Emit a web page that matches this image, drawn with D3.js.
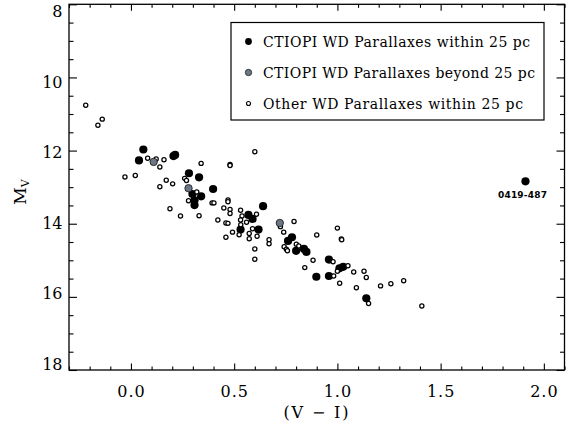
<!DOCTYPE html>
<html><head><meta charset="utf-8">
<script src="https://cdn.jsdelivr.net/npm/d3@7"></script>
<style>body{margin:0;background:#fff} svg{display:block}</style>
</head><body><svg id="c" width="566" height="423"></svg>
<script>
// CTIOPI WD parallaxes within 25 pc : [V-I, M_V]
const ctiopiNear = [
 [0.060,11.97],[0.039,12.27],[0.206,12.15],[0.214,12.12],[0.281,12.62],[0.330,12.73],
 [0.398,13.05],[0.298,13.19],[0.340,13.25],[0.308,13.36],[0.308,13.49],[0.640,13.52],
 [0.569,13.76],[0.589,13.87],[0.531,14.16],[0.618,14.16],[0.780,14.37],[0.761,14.47],
 [0.800,14.74],[0.838,14.69],[0.850,14.77],[0.959,14.98],[1.010,15.22],[1.028,15.18],
 [0.898,15.45],[0.959,15.43],[1.140,16.04],[1.911,12.84]
];
// CTIOPI WD parallaxes beyond 25 pc
const ctiopiFar = [[0.110,12.31],[0.279,13.03],[0.721,13.98]];
// Other WD parallaxes within 25 pc
const otherNear = [
 [-0.219,10.76],[-0.139,11.14],[-0.160,11.31],[-0.029,12.72],[0.021,12.68],
 [0.081,12.21],[0.122,12.23],[0.160,12.25],[0.140,12.45],[0.171,12.81],[0.140,12.99],[0.202,12.91],
 [0.340,12.35],[0.260,12.76],[0.269,12.82],[0.279,13.37],[0.319,13.13],
 [0.189,13.59],[0.240,13.79],[0.330,13.78],[0.393,13.43],[0.402,13.43],[0.421,13.90],
 [0.470,13.35],[0.470,13.40],[0.480,12.38],[0.480,12.41],[0.600,12.03],
 [0.450,13.57],[0.480,13.61],[0.480,13.72],[0.531,13.63],[0.460,13.98],[0.470,13.99],
 [0.460,14.37],[0.492,14.23],[0.538,13.79],[0.531,13.90],[0.560,13.96],[0.532,14.03],
 [0.589,14.14],[0.573,14.27],[0.573,14.41],[0.608,13.74],[0.611,14.34],[0.524,14.30],
 [0.600,14.69],[0.600,14.97],[0.669,14.44],[0.669,14.55],[0.724,14.08],[0.740,14.23],[0.790,13.94],
 [0.742,14.63],[0.753,14.70],[0.758,14.74],[0.801,14.56],[0.813,14.61],
 [0.900,14.31],[1.000,14.12],[1.019,14.42],[1.021,14.44],[0.882,15.00],[0.842,15.20],
 [0.979,15.04],[1.051,15.15],[1.079,15.32],[1.000,15.30],[0.982,15.43],
 [1.129,15.30],[1.140,15.47],[1.011,15.63],[1.092,15.75],
 [1.209,15.70],[1.259,15.64],[1.321,15.56],[1.151,16.18],[1.409,16.25]
];
const xMajorTicks = [0, 0.5, 1.0, 1.5, 2.0];
const yMajorTicks = [8, 10, 12, 14, 16, 18];
const legendLabels = ["CTIOPI WD Parallaxes within 25 pc","CTIOPI WD Parallaxes beyond 25 pc","Other WD Parallaxes within 25 pc"];
const outlierLabel = "0419-487";
const xTitle = "(V \u2212 I)";

const svg = d3.select("#c");
const FONT = "DejaVu Serif";
const x = d3.scaleLinear().domain([-0.3, 2.1]).range([69, 564.5]);
const y = d3.scaleLinear().domain([8, 18]).range([4.3, 370]);
const yLab = d3.scaleLinear().domain([8, 18]).range([11.7, 364]);
const xMinor = d3.range(-3, 22).map(d => +(d/10).toFixed(1)).filter(d => !xMajorTicks.includes(d));
const yMinor = d3.range(16, 37).map(d => d/2).filter(d => !yMajorTicks.includes(d));

function styleAxis(g){ g.select(".domain").remove(); g.selectAll("line").attr("stroke","#000").attr("stroke-width",1.1); }
const [x0,x1] = x.range(), [y0,y1] = y.range();
svg.append("g").attr("transform",`translate(0,${y1})`).call(d3.axisBottom(x).tickValues(xMinor).tickSize(-3.5).tickFormat("")).call(styleAxis);
svg.append("g").attr("transform",`translate(0,${y1})`).call(d3.axisBottom(x).tickValues(xMajorTicks).tickSize(-6.5).tickFormat("")).call(styleAxis);
svg.append("g").attr("transform",`translate(0,${y0})`).call(d3.axisTop(x).tickValues(xMinor).tickSize(-3.5).tickFormat("")).call(styleAxis);
svg.append("g").attr("transform",`translate(0,${y0})`).call(d3.axisTop(x).tickValues(xMajorTicks).tickSize(-6.5).tickFormat("")).call(styleAxis);
svg.append("g").attr("transform",`translate(${x0},0)`).call(d3.axisLeft(y).tickValues(yMinor).tickSize(-4.5).tickFormat("")).call(styleAxis);
svg.append("g").attr("transform",`translate(${x0},0)`).call(d3.axisLeft(y).tickValues(yMajorTicks).tickSize(-8).tickFormat("")).call(styleAxis);
svg.append("g").attr("transform",`translate(${x1},0)`).call(d3.axisRight(y).tickValues(yMinor).tickSize(-4.5).tickFormat("")).call(styleAxis);
svg.append("g").attr("transform",`translate(${x1},0)`).call(d3.axisRight(y).tickValues(yMajorTicks).tickSize(-8).tickFormat("")).call(styleAxis);

const xl = svg.append("g").attr("transform",`translate(0,${y1})`).call(d3.axisBottom(x).tickValues(xMajorTicks).tickSize(0).tickPadding(15.3).tickFormat(d3.format(".1f")));
xl.select(".domain").remove();
xl.selectAll("text").attr("font-family",FONT).attr("font-size",16).attr("fill","#000").attr("letter-spacing",1);
const yl = svg.append("g").attr("transform",`translate(${x0},0)`).call(d3.axisLeft(yLab).tickValues(yMajorTicks).tickSize(0).tickPadding(6.5).tickFormat(d3.format("d")));
yl.select(".domain").remove();
yl.selectAll("text").attr("font-family",FONT).attr("font-size",16).attr("fill","#000");

svg.append("rect").attr("x",x0).attr("y",y0).attr("width",x1-x0).attr("height",y1-y0)
  .attr("fill","none").attr("stroke","#000").attr("stroke-width",1.3);

svg.append("text").attr("x",316).attr("y",418).attr("text-anchor","middle")
  .attr("font-family",FONT).attr("font-size",16).attr("textLength",65).attr("lengthAdjust","spacing").text(xTitle);
const yt = svg.append("text").attr("transform","translate(26,192) rotate(-90)").attr("text-anchor","middle")
  .attr("font-family",FONT).attr("font-size",17);
yt.append("tspan").text("M");
yt.append("tspan").attr("font-size",11).attr("dy",3).text("V");

const pts = svg.append("g");
pts.selectAll(".near").data(ctiopiNear).join("circle").attr("cx",d=>x(d[0])).attr("cy",d=>y(d[1]))
  .attr("r",4.1).attr("fill","#000");
pts.selectAll(".other").data(otherNear).join("circle").attr("cx",d=>x(d[0])).attr("cy",d=>y(d[1]))
  .attr("r",2.1).attr("fill","#fff").attr("stroke","#000").attr("stroke-width",1.25);
pts.selectAll(".far").data(ctiopiFar).join("circle").attr("cx",d=>x(d[0])).attr("cy",d=>y(d[1]))
  .attr("r",3.7).attr("fill","#6c7785").attr("stroke","#111").attr("stroke-width",0.8);

const out = ctiopiNear[ctiopiNear.length-1];
svg.append("text").attr("x",x(out[0])-3).attr("y",y(out[1])+17).attr("text-anchor","middle")
  .attr("font-family","DejaVu Sans").attr("font-weight","bold").attr("font-size",9)
  .attr("textLength",49).attr("lengthAdjust","spacing").text(outlierLabel);

const lg = svg.append("g");
lg.append("rect").attr("x",231).attr("y",22.5).attr("width",313).attr("height",97.5)
  .attr("fill","#fff").attr("stroke","#000").attr("stroke-width",1.2);
const rowY = [41.5, 72.5, 103.5];
const rowW = [267, 272, 260];
const mk = [{r:3.4,fill:"#000",stroke:"none",sw:0},{r:3.2,fill:"#6c7785",stroke:"#111",sw:0.7},{r:2,fill:"#fff",stroke:"#000",sw:1.1}];
legendLabels.forEach((t,i)=>{
  lg.append("circle").attr("cx",248.5).attr("cy",rowY[i]).attr("r",mk[i].r).attr("fill",mk[i].fill)
    .attr("stroke",mk[i].stroke).attr("stroke-width",mk[i].sw);
  lg.append("text").attr("x",263).attr("y",rowY[i]+5).attr("font-family",FONT).attr("font-size",14)
    .attr("textLength",rowW[i]).attr("lengthAdjust","spacing").text(t);
});
</script></body></html>
